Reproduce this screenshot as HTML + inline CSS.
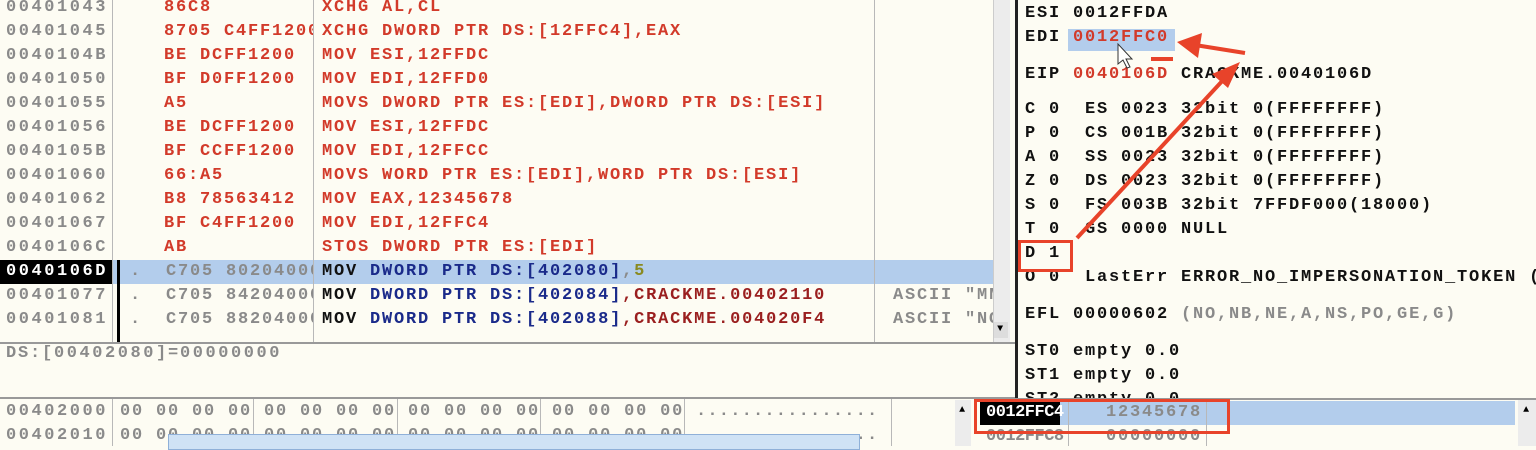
<!DOCTYPE html>
<html><head><style>
body{margin:0;width:1536px;height:446px;overflow:hidden;background:#fdfcf3;font-family:"Liberation Mono",monospace;font-weight:bold;font-size:17px;letter-spacing:1.8px;position:relative}
.a{position:absolute;white-space:pre;line-height:24px}
.c{position:absolute;overflow:hidden}
.g{color:#8a8a8a}.r{color:#d23a2a}.k{color:#111}.b{color:#1a2a8a}.dr{color:#9a1f1f}
.ln{position:absolute;background:#b8b8b8}
.ad{letter-spacing:2.55px}
</style></head><body>
<!-- disasm pane -->
<div style="position:absolute;left:0;top:260px;width:993px;height:24px;background:#b3cdec"></div>
<div style="position:absolute;left:0;top:260px;width:112px;height:24px;background:#000"></div>
<div class="ln" style="left:112px;top:0;width:1px;height:343px"></div>
<div class="ln" style="left:313px;top:0;width:1px;height:343px"></div>
<div class="ln" style="left:874px;top:0;width:1px;height:343px"></div>
<div style="position:absolute;left:117px;top:260px;width:3px;height:83px;background:#000"></div>
<div style="position:absolute;left:993px;top:0;width:16px;height:343px;background:#ececec;border-left:1px solid #ccc"></div>
<div style="position:absolute;left:994px;top:322px;width:14px;height:16px;background:#ddd;font-size:10px;text-align:center;line-height:16px">▼</div>
<div class="a g ad" style="left:6px;top:-4px">00401043
00401045
0040104B
00401050
00401055
00401056
0040105B
00401060
00401062
00401067
0040106C
<span style="color:#fff">0040106D</span>
00401077
00401081</div>
<div class="c" style="left:114px;top:0;width:199px;height:343px">
<div class="a r" style="left:50px;top:-4px">86C8
8705 C4FF1200
BE DCFF1200
BF D0FF1200
A5
BE DCFF1200
BF CCFF1200
66:A5
B8 78563412
BF C4FF1200
AB</div>
<div class="a g" style="left:16px;top:260px">.  C705 80204000
.  C705 84204000
.  C705 88204000</div></div>
<div class="a r" style="left:322px;top:-4px">XCHG AL,CL
XCHG DWORD PTR DS:[12FFC4],EAX
MOV ESI,12FFDC
MOV EDI,12FFD0
MOVS DWORD PTR ES:[EDI],DWORD PTR DS:[ESI]
MOV ESI,12FFDC
MOV EDI,12FFCC
MOVS WORD PTR ES:[EDI],WORD PTR DS:[ESI]
MOV EAX,12345678
MOV EDI,12FFC4
STOS DWORD PTR ES:[EDI]</div>
<div class="a" style="left:322px;top:260px"><span class="k">MOV</span> <span class="b">DWORD PTR DS:[402080]</span><span class="g">,</span><span style="color:#8a8a20">5</span>
<span class="k">MOV</span> <span class="b">DWORD PTR DS:[402084]</span><span class="dr">,CRACKME.00402110</span>
<span class="k">MOV</span> <span class="b">DWORD PTR DS:[402088]</span><span class="dr">,CRACKME.004020F4</span></div>
<div class="c" style="left:876px;top:0;width:117px;height:343px">
<div class="a g" style="left:17px;top:284px">ASCII "MN
ASCII "NO</div></div>
<div style="position:absolute;left:0;top:342px;width:1015px;height:2px;background:#999"></div>
<!-- info pane -->
<div class="a g" style="left:6px;top:342px">DS:[<span class="ad">00402080</span>]=<span class="ad">00000000</span></div>
<div style="position:absolute;left:0;top:397px;width:1015px;height:2px;background:#999"></div>
<!-- dump -->
<div class="ln" style="left:112px;top:399px;width:1px;height:47px"></div>
<div class="ln" style="left:253px;top:399px;width:1px;height:47px"></div>
<div class="ln" style="left:397px;top:399px;width:1px;height:47px"></div>
<div class="ln" style="left:540px;top:399px;width:1px;height:47px"></div>
<div class="ln" style="left:684px;top:399px;width:1px;height:47px"></div>
<div class="ln" style="left:891px;top:399px;width:1px;height:47px"></div>
<div class="a g ad" style="left:6px;top:400px">00402000
00402010</div>
<div class="a g" style="left:120px;top:400px">00 00 00 00 00 00 00 00 00 00 00 00 00 00 00 00
00 00 00 00 00 00 00 00 00 00 00 00 00 00 00 00</div>
<div class="a g" style="left:696px;top:400px;letter-spacing:1.2px">................
................</div>
<div style="position:absolute;left:168px;top:434px;width:690px;height:14px;background:#cfe2f5;border:1px solid #8fb0d8"></div>
<div style="position:absolute;left:955px;top:400px;width:16px;height:46px;background:#ececec;font-size:10px;text-align:center;line-height:22px">▲</div>
<!-- registers pane -->
<div style="position:absolute;left:1015px;top:0;width:3px;height:398px;background:#222"></div>
<div style="position:absolute;left:1068px;top:29px;width:107px;height:22px;background:#b3cdec"></div>
<div class="a k" style="left:1025px;top:2px">ESI 0012FFDA
EDI <span class="r">0012FFC0</span></div>
<div class="a k" style="left:1025px;top:63px">EIP <span class="r">0040106D</span> CRACKME.0040106D</div>
<div class="a k" style="left:1025px;top:98px">C 0  ES 0023 32bit 0(FFFFFFFF)
P 0  CS 001B 32bit 0(FFFFFFFF)
A 0  SS 0023 32bit 0(FFFFFFFF)
Z 0  DS 0023 32bit 0(FFFFFFFF)
S 0  FS 003B 32bit 7FFDF000(18000)
T 0  GS 0000 NULL
D 1
O 0  LastErr ERROR_NO_IMPERSONATION_TOKEN (</div>
<div class="a k" style="left:1025px;top:303px">EFL 00000602 <span class="g">(NO,NB,NE,A,NS,PO,GE,G)</span></div>
<div class="a k" style="left:1025px;top:340px">ST0 empty 0.0
ST1 empty 0.0
ST2 empty 0.0</div>
<!-- stack pane -->
<div style="position:absolute;left:975px;top:398px;width:561px;height:48px;background:#fdfcf3;border-top:2px solid #999"></div>
<div style="position:absolute;left:980px;top:401px;width:535px;height:24px;background:#b3cdec"></div>
<div style="position:absolute;left:980px;top:401px;width:80px;height:24px;background:#000"></div>
<div class="ln" style="left:1068px;top:400px;width:1px;height:46px"></div>
<div class="ln" style="left:1206px;top:400px;width:1px;height:46px"></div>
<div class="a" style="left:986px;top:401px;letter-spacing:-0.5px"><span style="color:#fff">0012FFC4</span>
<span class="g">0012FFC8</span></div>
<div class="a g" style="left:1106px;top:401px">12345678
00000000</div>
<div style="position:absolute;left:1518px;top:400px;width:18px;height:46px;background:#ececec;font-size:10px;text-align:center;line-height:22px">▲</div>
<!-- annotations -->
<div style="position:absolute;left:1018px;top:240px;width:49px;height:26px;border:3px solid #e8432a"></div>
<div style="position:absolute;left:974px;top:399px;width:250px;height:29px;border:3px solid #e8432a"></div>
<div style="position:absolute;left:1151px;top:57px;width:22px;height:4px;background:#e8432a"></div>
<svg style="position:absolute;left:0;top:0" width="1536" height="446">
<line x1="1077" y1="238" x2="1225" y2="78" stroke="#e8432a" stroke-width="4"/>
<polygon points="1240,62 1212,74 1228,88" fill="#e8432a"/>
<line x1="1245" y1="53" x2="1195" y2="45" stroke="#e8432a" stroke-width="4"/>
<polygon points="1177,42 1202,33 1198,58" fill="#e8432a"/>
<path d="M1118,44 l0,20 l5,-4 l4,8 l3,-1 l-4,-8 l6,0 z" fill="#fff" stroke="#333" stroke-width="1"/>
</svg>
</body></html>
